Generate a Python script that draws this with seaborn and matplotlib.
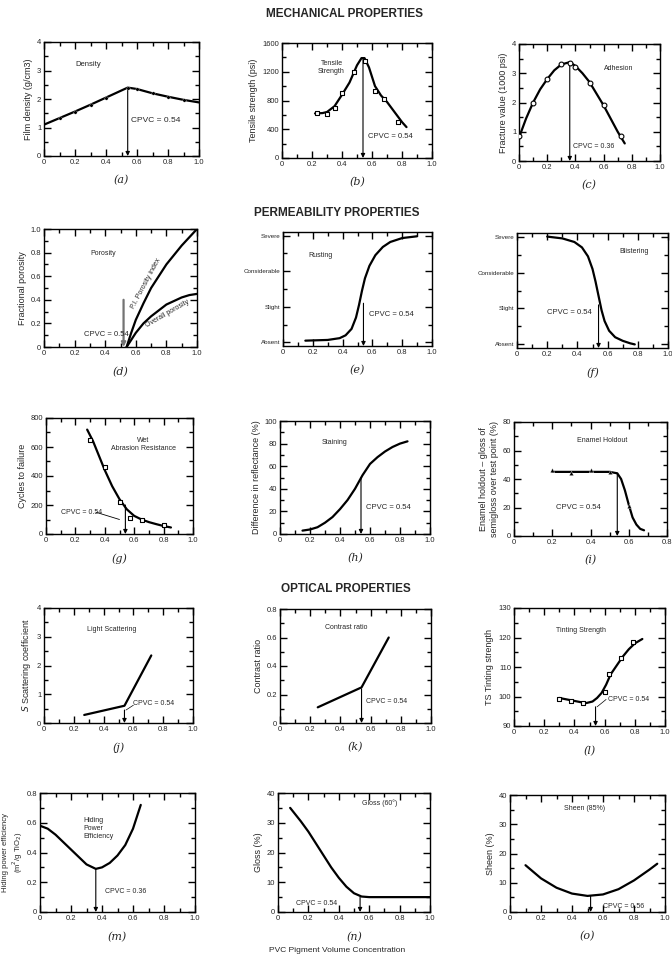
import numpy as np
import pandas as pd
import seaborn as sns
import matplotlib.pyplot as plt
from matplotlib.ticker import MultipleLocator

# ---- data ----
# (a) density
dens_x = [0.0, 0.1, 0.2, 0.3, 0.4, 0.54, 0.6, 0.7, 0.8, 0.9, 1.0]
dens_y = [1.1, 1.33, 1.56, 1.8, 2.05, 2.4, 2.35, 2.2, 2.08, 1.97, 1.88]
# (b) tensile strength
ten_x = [0.22, 0.27, 0.3, 0.35, 0.4, 0.45, 0.5, 0.53, 0.55, 0.58, 0.62, 0.66, 0.7, 0.75, 0.8, 0.83]
ten_y = [620, 625, 640, 720, 880, 1050, 1290, 1390, 1390, 1260, 1000, 870, 780, 640, 500, 430]
ten_px = [0.23, 0.3, 0.35, 0.4, 0.48, 0.55, 0.62, 0.68, 0.77]
ten_py = [620, 610, 700, 900, 1200, 1350, 930, 820, 500]
# (c) adhesion
adh_x = [0.0, 0.05, 0.1, 0.15, 0.2, 0.25, 0.3, 0.36, 0.4, 0.45, 0.5, 0.55, 0.6, 0.65, 0.7, 0.75]
adh_y = [0.8, 1.45, 2.0, 2.45, 2.8, 3.1, 3.3, 3.38, 3.25, 3.0, 2.7, 2.3, 1.9, 1.45, 1.0, 0.6]
adh_px = [0.0, 0.1, 0.2, 0.3, 0.36, 0.4, 0.5, 0.6, 0.72]
adh_py = [0.85, 2.0, 2.8, 3.3, 3.35, 3.2, 2.65, 1.9, 0.85]
# (d) porosity
pi_x = [0.54, 0.57, 0.6, 0.65, 0.7, 0.75, 0.8, 0.85, 0.9, 0.95, 1.0]
pi_y = [0.0, 0.12, 0.23, 0.37, 0.5, 0.6, 0.7, 0.78, 0.86, 0.93, 1.0]
ov_x = [0.54, 0.57, 0.6, 0.65, 0.7, 0.75, 0.8, 0.85, 0.9, 0.95, 1.0]
ov_y = [0.0, 0.06, 0.12, 0.2, 0.26, 0.31, 0.36, 0.39, 0.42, 0.44, 0.45]
# (e) rusting, (f) blistering  (0 Absent .. 3 Severe)
sev_labels = ["Absent", "Slight", "Considerable", "Severe"]
rust_x = [0.15, 0.3, 0.38, 0.42, 0.46, 0.49, 0.51, 0.53, 0.55, 0.58, 0.62, 0.67, 0.72, 0.8, 0.9]
rust_y = [0.05, 0.07, 0.12, 0.2, 0.38, 0.7, 1.05, 1.45, 1.8, 2.15, 2.45, 2.68, 2.82, 2.93, 2.98]
blis_x = [0.2, 0.3, 0.38, 0.43, 0.47, 0.5, 0.52, 0.54, 0.56, 0.58, 0.61, 0.65, 0.7, 0.75, 0.78]
blis_y = [3.0, 2.95, 2.85, 2.7, 2.45, 2.1, 1.75, 1.35, 0.95, 0.65, 0.38, 0.2, 0.1, 0.03, 0.0]
# (g) wet abrasion resistance
wet_x = [0.28, 0.32, 0.36, 0.4, 0.45, 0.5, 0.55, 0.6, 0.65, 0.7, 0.75, 0.8, 0.85]
wet_y = [720, 640, 540, 440, 330, 240, 170, 125, 100, 82, 68, 55, 45]
wet_px = [0.3, 0.4, 0.5, 0.57, 0.65, 0.8]
wet_py = [650, 460, 220, 110, 100, 60]
# (h) staining
stain_x = [0.15, 0.2, 0.25, 0.3, 0.35, 0.4, 0.45, 0.5, 0.55, 0.6, 0.65, 0.7, 0.75, 0.8, 0.85]
stain_y = [3, 4, 6, 10, 15, 22, 30, 40, 52, 62, 68, 73, 77, 80, 82]
# (i) enamel holdout
ena_x = [0.2, 0.3, 0.4, 0.5, 0.54, 0.56, 0.58, 0.6, 0.62, 0.64, 0.66, 0.68]
ena_y = [45, 45, 45, 45, 44, 40, 32, 22, 13, 8, 5, 4]
ena_px = [0.2, 0.3, 0.4, 0.5, 0.6]
ena_py = [46, 44, 46, 45, 21]
# (j) light scattering, (k) contrast ratio
ls_x = [0.27, 0.54, 0.72]
ls_y = [0.28, 0.6, 2.35]
cr_x = [0.25, 0.54, 0.72]
cr_y = [0.11, 0.25, 0.6]
# (l) tinting strength
ts_x = [0.3, 0.35, 0.4, 0.45, 0.48, 0.52, 0.55, 0.58, 0.61, 0.64, 0.68, 0.72, 0.76, 0.8, 0.85]
ts_y = [99.5, 99.0, 98.5, 98.0, 97.8, 98.3, 99.5, 101.2, 104.0, 107.5, 110.5, 113.5, 116.0, 118.0, 119.5]
ts_px = [0.3, 0.38, 0.46, 0.6, 0.63, 0.71, 0.79]
ts_py = [99, 98.5, 97.8, 101.5, 107.5, 113, 118.5]
# (m) hiding power efficiency
hp_x = [0.0, 0.05, 0.1, 0.15, 0.2, 0.25, 0.3, 0.36, 0.4, 0.45, 0.5, 0.55, 0.6, 0.65]
hp_y = [0.58, 0.56, 0.52, 0.47, 0.42, 0.37, 0.32, 0.29, 0.3, 0.33, 0.38, 0.45, 0.56, 0.72]
# (n) gloss 60, (o) sheen 85
gl_x = [0.08, 0.15, 0.2, 0.25, 0.3, 0.35, 0.4, 0.45, 0.5, 0.55, 0.6, 0.8, 1.0]
gl_y = [35, 30.5, 27, 23, 19, 15, 11.5, 8.5, 6.3, 5.2, 5, 5, 5]
sh_x = [0.1, 0.2, 0.3, 0.4, 0.5, 0.6, 0.7, 0.8, 0.9, 0.95]
sh_y = [16, 11.5, 8.3, 6.3, 5.5, 6.0, 7.8, 10.8, 14.5, 16.5]

sns.set_theme(style="ticks")
plt.rcParams['font.family'] = ['Liberation Sans', 'DejaVu Sans']
plt.rcParams.update({'xtick.direction': 'in', 'ytick.direction': 'in',
                     'xtick.top': True, 'ytick.right': True,
                     'xtick.major.size': 5, 'ytick.major.size': 5,
                     'xtick.minor.size': 3, 'ytick.minor.size': 3,
                     'xtick.labelsize': 5.5, 'ytick.labelsize': 5.5,
                     'axes.linewidth': 1.0, 'axes.edgecolor': 'black'})

fig = plt.figure(figsize=(6.72, 9.56), dpi=100)
W, H = 672.0, 956.0


def make_ax(box, xlim, ylim, xmaj, ymaj, ylabel, tag, xmin=None, ymin=None):
    l, t, r, b = box
    ax = fig.add_axes([l / W, 1 - b / H, (r - l) / W, (b - t) / H])
    ax.set_xlim(*xlim)
    ax.set_ylim(*ylim)
    ax.xaxis.set_major_locator(MultipleLocator(xmaj))
    ax.xaxis.set_minor_locator(MultipleLocator(xmin or xmaj / 2))
    ax.yaxis.set_major_locator(MultipleLocator(ymaj))
    ax.yaxis.set_minor_locator(MultipleLocator(ymin or ymaj / 2))
    ax.tick_params(which='both', top=True, right=True, color='black', width=1.0, pad=2)
    ax.xaxis.set_major_formatter(plt.FuncFormatter(
        lambda v, p: '0' if abs(v) < 1e-9 else f'{v:.1f}'))
    ax.set_ylabel(ylabel, fontsize=6.5, labelpad=3)
    ax.text(0.5, -0.165, tag, transform=ax.transAxes, ha='center', va='top',
            fontsize=8, family='DejaVu Serif', style='italic')
    return ax


def curve(ax, xs, ys, lw=1.6):
    sns.lineplot(x=xs, y=ys, ax=ax, color='black', lw=lw, sort=False, estimator=None)


def pts(ax, xs, ys, marker='o'):
    sns.scatterplot(x=xs, y=ys, ax=ax, marker=marker, s=12, facecolor='white',
                    edgecolor='black', linewidth=0.8, zorder=5)


def arrow(ax, x, y0, y1, lw=0.8, color='black'):
    ax.annotate('', xy=(x, y1), xytext=(x, y0),
                arrowprops=dict(arrowstyle='-|>', lw=lw, color=color,
                                mutation_scale=6, shrinkA=0, shrinkB=0))


def note(ax, x, y, s, **kw):
    ax.text(x, y, s, fontsize=kw.pop('fontsize', 5.5), **kw)


yfmt_int = plt.FuncFormatter(lambda v, p: f'{v:.0f}')
yfmt_dec = plt.FuncFormatter(lambda v, p: '0' if abs(v) < 1e-9 else f'{v:.1f}')

# ---- row 1: mechanical ----
ax = make_ax((44, 42, 199, 156), (0, 1), (0, 4), 0.2, 1, 'Film density (g/cm3)', '(a)', xmin=0.1, ymin=0.5)
ax.yaxis.set_major_formatter(yfmt_int)
curve(ax, dens_x, dens_y)
sns.scatterplot(x=dens_x[1:-1], y=dens_y[1:-1], ax=ax, color='black', s=6, zorder=5)
arrow(ax, 0.54, 2.35, 0)
note(ax, 0.56, 1.2, 'CPVC = 0.54', fontsize=6)
note(ax, 0.2, 3.15, 'Density')

ax = make_ax((282, 43, 432, 158), (0, 1), (0, 1600), 0.2, 400, 'Tensile strength (psi)', '(b)', xmin=0.1, ymin=200)
curve(ax, ten_x, ten_y)
pts(ax, ten_px, ten_py, marker='s')
arrow(ax, 0.54, 1390, 0)
note(ax, 0.57, 280, 'CPVC = 0.54')
note(ax, 0.33, 1180, 'Tensile\nStrength', ha='center', fontsize=5)

ax = make_ax((519, 44, 660, 161), (0, 1), (0, 4), 0.2, 1, 'Fracture value (1000 psi)', '(c)', xmin=0.1, ymin=0.5)
ax.yaxis.set_major_formatter(yfmt_int)
curve(ax, adh_x, adh_y)
pts(ax, adh_px, adh_py)
arrow(ax, 0.36, 3.38, 0)
note(ax, 0.38, 0.45, 'CPVC = 0.36', fontsize=5)
note(ax, 0.6, 3.1, 'Adhesion', fontsize=5)

# ---- row 2: permeability ----
ax = make_ax((44, 229, 197, 347), (0, 1), (0, 1.0), 0.2, 0.2, 'Fractional porosity', '(d)', xmin=0.1, ymin=0.1)
ax.yaxis.set_major_formatter(yfmt_dec)
curve(ax, pi_x, pi_y)
curve(ax, ov_x, ov_y)
arrow(ax, 0.52, 0.4, 0.0, lw=1.6, color='0.45')
note(ax, 0.26, 0.09, 'CPVC = 0.54')
note(ax, 0.3, 0.78, 'Porosity', fontsize=5)
note(ax, 0.56, 0.33, 'P.I. Porosity index', rotation=62, fontsize=5)
note(ax, 0.66, 0.17, 'Overall porosity', rotation=30, fontsize=5)

ax = make_ax((283, 232, 432, 346), (0, 1), (-0.1, 3.1), 0.2, 1, '', '(e)', xmin=0.1)
ax.set_yticks(range(4))
ax.set_yticklabels(sev_labels, fontsize=4.5)
ax.yaxis.set_minor_locator(MultipleLocator(0.5))
curve(ax, rust_x, rust_y)
arrow(ax, 0.54, 1.1, -0.1)
note(ax, 0.58, 0.75, 'CPVC = 0.54')
note(ax, 0.17, 2.4, 'Rusting', fontsize=5)

ax = make_ax((517, 233, 668, 348), (0, 1), (-0.1, 3.1), 0.2, 1, '', '(f)', xmin=0.1)
ax.set_yticks(range(4))
ax.set_yticklabels(sev_labels, fontsize=4.5)
ax.yaxis.set_minor_locator(MultipleLocator(0.5))
curve(ax, blis_x, blis_y)
arrow(ax, 0.54, 1.1, -0.1)
note(ax, 0.2, 0.85, 'CPVC = 0.54')
note(ax, 0.68, 2.55, 'Blistering', fontsize=5)

# ---- row 3 ----
ax = make_ax((46, 418, 193, 534), (0, 1), (0, 800), 0.2, 200, 'Cycles to failure', '(g)', xmin=0.1, ymin=100)
curve(ax, wet_x, wet_y)
pts(ax, wet_px, wet_py, marker='s')
arrow(ax, 0.54, 200, 0)
note(ax, 0.1, 140, 'CPVC = 0.54', fontsize=5)
ax.plot([0.34, 0.5], [150, 100], color='black', lw=0.6)
note(ax, 0.66, 580, 'Wet\nAbrasion Resistance', ha='center', fontsize=5)

ax = make_ax((280, 421, 430, 534), (0, 1), (0, 100), 0.2, 20, 'Difference in reflectance (%)', '(h)', xmin=0.1, ymin=10)
curve(ax, stain_x, stain_y)
arrow(ax, 0.54, 50, 0)
note(ax, 0.57, 22, 'CPVC = 0.54')
note(ax, 0.28, 80, 'Staining', fontsize=5)

ax = make_ax((514, 422, 667, 536), (0, 0.8), (0, 80), 0.2, 20,
             'Enamel holdout \u2013 gloss of\nsemigloss over test point (%)', '(i)', xmin=0.1, ymin=10)
curve(ax, ena_x, ena_y)
sns.scatterplot(x=ena_px, y=ena_py, ax=ax, marker='^', color='black', s=10, zorder=5)
arrow(ax, 0.54, 44, 0)
note(ax, 0.22, 19, 'CPVC = 0.54')
note(ax, 0.33, 66, 'Enamel Holdout', fontsize=5)

# ---- row 4: optical ----
ax = make_ax((44, 608, 193, 723), (0, 1), (0, 4), 0.2, 1, '$S$ Scattering coefficient', '(j)', xmin=0.1, ymin=0.5)
ax.yaxis.set_major_formatter(yfmt_int)
curve(ax, ls_x, ls_y)
arrow(ax, 0.54, 0.45, 0)
note(ax, 0.6, 0.62, 'CPVC = 0.54', fontsize=5)
ax.plot([0.55, 0.6], [0.45, 0.62], color='black', lw=0.5)
note(ax, 0.29, 3.2, 'Light Scattering', fontsize=5)

ax = make_ax((280, 609, 431, 723), (0, 1), (0, 0.8), 0.2, 0.2, 'Contrast ratio', '(k)', xmin=0.1, ymin=0.1)
ax.yaxis.set_major_formatter(yfmt_dec)
curve(ax, cr_x, cr_y)
arrow(ax, 0.54, 0.24, 0)
note(ax, 0.57, 0.14, 'CPVC = 0.54', fontsize=5)
note(ax, 0.3, 0.66, 'Contrast ratio', fontsize=5)

ax = make_ax((514, 608, 665, 726), (0, 1), (90, 130), 0.2, 10, 'TS Tinting strength', '(l)', xmin=0.1, ymin=5)
curve(ax, ts_x, ts_y)
pts(ax, ts_px, ts_py, marker='s')
arrow(ax, 0.54, 96.5, 90)
note(ax, 0.62, 98.5, 'CPVC = 0.54', fontsize=5)
ax.plot([0.55, 0.61], [96.5, 99], color='black', lw=0.5)
note(ax, 0.28, 122, 'Tinting Strength', fontsize=5)

# ---- row 5 ----
ax = make_ax((40, 793, 195, 912), (0, 1), (0, 0.8), 0.2, 0.2,
             'Hiding power efficiency\n(m$^2$/g TiO$_2$)', '(m)', xmin=0.1, ymin=0.1)
ax.yaxis.set_major_formatter(yfmt_dec)
ax.yaxis.label.set_fontsize(5.5)
ax.yaxis.labelpad = 1
curve(ax, hp_x, hp_y)
arrow(ax, 0.36, 0.29, 0)
note(ax, 0.42, 0.13, 'CPVC = 0.36', fontsize=5)
note(ax, 0.28, 0.5, 'Hiding\nPower\nEfficiency', fontsize=5)

ax = make_ax((278, 793, 430, 912), (0, 1), (0, 40), 0.2, 10, 'Gloss (%)', '(n)', xmin=0.1, ymin=5)
curve(ax, gl_x, gl_y)
arrow(ax, 0.54, 5, 0)
note(ax, 0.12, 2.5, 'CPVC = 0.54', fontsize=5)
note(ax, 0.55, 36, 'Gloss (60\u00b0)', fontsize=5)

ax = make_ax((510, 795, 665, 912), (0, 1), (0, 40), 0.2, 10, 'Sheen (%)', '(o)', xmin=0.1, ymin=5)
curve(ax, sh_x, sh_y)
arrow(ax, 0.52, 5.5, 0)
note(ax, 0.6, 1.5, 'CPVC = 0.56', fontsize=5)
note(ax, 0.35, 35, 'Sheen (85%)', fontsize=5)

# section headings
fig.text(345 / W, 1 - 14 / H, 'MECHANICAL PROPERTIES', ha='center', va='center', fontsize=8.5, fontweight='bold')
fig.text(337 / W, 1 - 213 / H, 'PERMEABILITY PROPERTIES', ha='center', va='center', fontsize=8.5, fontweight='bold')
fig.text(346 / W, 1 - 589 / H, 'OPTICAL PROPERTIES', ha='center', va='center', fontsize=8.5, fontweight='bold')
fig.text(337 / W, 1 - 950 / H, 'PVC Pigment Volume Concentration', ha='center', va='center', fontsize=6)

fig.savefig('out.png', dpi=100, facecolor='white')
